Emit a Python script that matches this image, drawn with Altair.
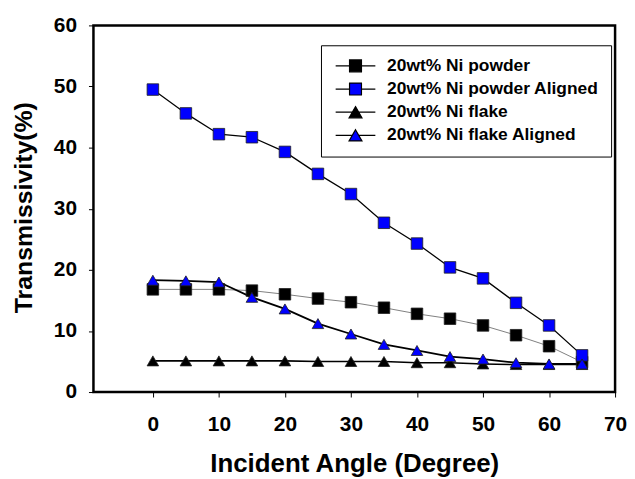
import altair as alt
import pandas as pd

angles = [0, 5, 10, 15, 20, 25, 30, 35, 40, 45, 50, 55, 60, 65]
powder = [16.8, 16.8, 16.8, 16.6, 16.0, 15.3, 14.7, 13.8, 12.8, 12.0, 10.9, 9.3, 7.5, 4.9]
powder_aligned = [49.5, 45.6, 42.2, 41.7, 39.3, 35.7, 32.4, 27.7, 24.3, 20.4, 18.6, 14.6, 10.9, 6.0]
flake = [5.1, 5.1, 5.1, 5.1, 5.1, 5.0, 5.0, 5.0, 4.8, 4.8, 4.6, 4.5, 4.5, 4.5]
flake_aligned = [18.3, 18.2, 18.0, 15.5, 13.6, 11.2, 9.5, 7.8, 6.8, 5.8, 5.4, 4.8, 4.6, 4.6]

series_names = ["20wt% Ni powder", "20wt% Ni powder Aligned", "20wt% Ni flake", "20wt% Ni flake Aligned"]
fill_colors = ["#000000", "#0000FF", "#000000", "#0000FF"]
line_colors = ["#808080", "#000000", "#000000", "#000000"]
legend_strokes = ["#000000", "#000000", "#000000", "#000000"]
line_widths = [1.0, 1.8, 1.8, 1.8]
marker_shapes = ["square", "square", "triangle-up", "triangle-up"]
marker_sizes = [135, 135, 170, 170]
sq_leg = "M-3.33,0H-1M1,0H3.33M-1,-1H1V1H-1Z"
tri_leg = "M-3.33,0H-0.54M0.54,0H3.33M0,-0.94L1.08,0.94L-1.08,0.94Z"
legend_shapes = [sq_leg, sq_leg, tri_leg, tri_leg]
x_ticks = [0, 10, 20, 30, 40, 50, 60, 70]
y_ticks = [0, 10, 20, 30, 40, 50, 60]

rows = []
for name, vals in zip(series_names, [powder, powder_aligned, flake, flake_aligned]):
    for a, v in zip(angles, vals):
        rows.append({"series": name, "angle": a, "trans": v})
df = pd.DataFrame(rows)

FONT = "Liberation Sans"

x_enc = alt.X(
    "angle:Q",
    scale=alt.Scale(domain=[-9, 70], nice=False, zero=False),
    axis=alt.Axis(
        values=x_ticks, title="Incident Angle (Degree)", grid=False, domain=False,
        tickSize=5, tickColor="black", labelPadding=17, labelFont=FONT, labelFontSize=21,
        labelFontWeight="bold", labelColor="black", labelAngle=0, labelFlush=False,
        titleFont=FONT, titleFontSize=26, titleFontWeight="bold", titleColor="black",
        titleX=262.5, titleY=80, titleBaseline="alphabetic", titleAlign="center",
    ),
)
y_enc = alt.Y(
    "trans:Q",
    scale=alt.Scale(domain=[0, 60], nice=False),
    axis=alt.Axis(
        values=y_ticks, title="Transmissivity(%)", grid=False, domain=False,
        tickSize=5, tickColor="black", labelPadding=12, labelFont=FONT, labelFontSize=21,
        labelFontWeight="bold", labelColor="black",
        titleFont=FONT, titleFontSize=25, titleFontWeight="bold", titleColor="black",
        titleAngle=270, titleX=-70, titleY=183, titleBaseline="middle", titleAlign="center",
    ),
)

base = alt.Chart(df)

lines = base.mark_line().encode(
    x=x_enc, y=y_enc,
    detail="series:N",
    stroke=alt.Stroke("series:N", scale=alt.Scale(domain=series_names, range=line_colors), legend=None),
    strokeWidth=alt.StrokeWidth("series:O", scale=alt.Scale(domain=series_names, range=line_widths), legend=None),
)

points = base.mark_point(filled=True, opacity=1, stroke="#202020", strokeWidth=0.8).encode(
    x=x_enc, y=y_enc,
    fill=alt.Fill("series:N", scale=alt.Scale(domain=series_names, range=fill_colors), legend=None),
    shape=alt.Shape("series:N", scale=alt.Scale(domain=series_names, range=marker_shapes), legend=None),
    size=alt.Size("series:O", scale=alt.Scale(domain=series_names, range=marker_sizes), legend=None),
)

leg = alt.Legend(
    title=None, orient="none", legendX=229, legendY=20, direction="vertical",
    padding=12, strokeColor="black", fillColor="white", cornerRadius=0,
    symbolSize=144, symbolOffset=14, labelOffset=23, symbolStrokeWidth=1.2,
    labelFont=FONT, labelFontSize=17.5, labelFontWeight="bold",
    labelColor="black", rowPadding=4.3, labelLimit=400,
)

legend_layer = base.transform_filter("false").mark_point(filled=True, opacity=1, strokeWidth=1.2).encode(
    x=x_enc, y=y_enc,
    fill=alt.Fill("series:N", scale=alt.Scale(domain=series_names, range=fill_colors), legend=leg),
    shape=alt.Shape("series:N", scale=alt.Scale(domain=series_names, range=legend_shapes), legend=leg),
    stroke=alt.Stroke("series:N", scale=alt.Scale(domain=series_names, range=legend_strokes), legend=leg),
)

chart = alt.layer(lines, points, legend_layer).resolve_scale(
    shape="independent", fill="independent", stroke="independent"
).properties(
    width=525, height=369,
    autosize="none",
    padding={"left": 86, "top": 16, "right": 12, "bottom": 86},
    background="white",
).configure_view(stroke="black", strokeWidth=2.5)

chart.save("out.html", embed_options={"renderer": "svg", "actions": False})
